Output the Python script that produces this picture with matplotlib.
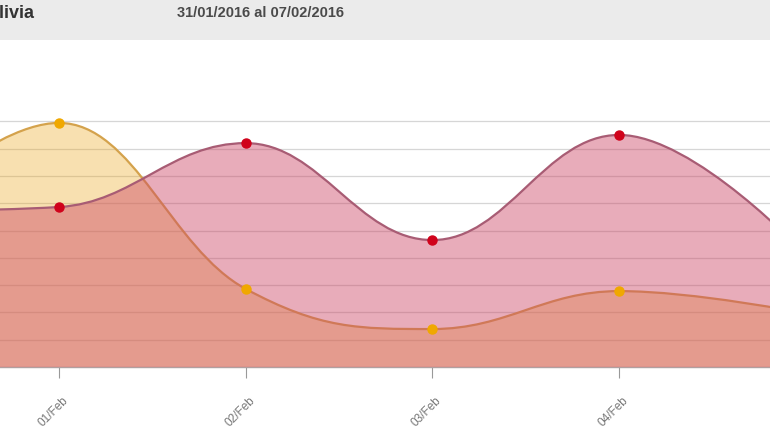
import numpy as np
import matplotlib.pyplot as plt
from matplotlib.path import Path
from matplotlib.patches import PathPatch, Rectangle
from matplotlib.transforms import ScaledTranslation

plt.rcParams['font.family'] = ['Liberation Sans', 'DejaVu Sans']

# datos (unidades = lineas de la grilla)
dias = ['31/Jan', '01/Feb', '02/Feb', '03/Feb', '04/Feb', '05/Feb']
serie_roja = [5.7, 5.86, 8.2, 4.65, 8.5, 4.1]
serie_amarilla = [4.6, 8.94, 2.86, 1.39, 2.78, 1.96]
titulo = 'Bolivia'
rango = '31/01/2016 al 07/02/2016'


def spline_path(xs, ys, smoothing=1.5):
    """curva tipo 'spline' de Highcharts (bezier cubica)"""
    n = len(xs)
    denom = smoothing + 1
    left = [None] * n
    right = [None] * n
    for i in range(n):
        x, y = xs[i], ys[i]
        if 0 < i < n - 1:
            lx, ly = xs[i - 1], ys[i - 1]
            nx, ny = xs[i + 1], ys[i + 1]
            lcx = (smoothing * x + lx) / denom
            lcy = (smoothing * y + ly) / denom
            rcx = (smoothing * x + nx) / denom
            rcy = (smoothing * y + ny) / denom
            corr = (rcy - lcy) * (rcx - x) / (rcx - lcx) + y - rcy
            lcy += corr
            rcy += corr
            if lcy > ly and lcy > y:
                lcy = max(ly, y)
                rcy = 2 * y - lcy
            elif lcy < ly and lcy < y:
                lcy = min(ly, y)
                rcy = 2 * y - lcy
            if rcy > ny and rcy > y:
                rcy = max(ny, y)
                lcy = 2 * y - rcy
            elif rcy < ny and rcy < y:
                rcy = min(ny, y)
                lcy = 2 * y - rcy
            left[i] = (lcx, lcy)
            right[i] = (rcx, rcy)
        else:
            left[i] = (x, y)
            right[i] = (x, y)
    verts = [(xs[0], ys[0])]
    codes = [Path.MOVETO]
    for i in range(1, n):
        verts += [right[i - 1], left[i], (xs[i], ys[i])]
        codes += [Path.CURVE4] * 3
    return verts, codes


def area_patch(xs, ys, **kw):
    verts, codes = spline_path(xs, ys)
    verts = verts + [(xs[-1], 0), (xs[0], 0), (xs[0], ys[0])]
    codes = codes + [Path.LINETO, Path.LINETO, Path.CLOSEPOLY]
    return PathPatch(Path(verts, codes), **kw)


def line_patch(xs, ys, **kw):
    verts, codes = spline_path(xs, ys)
    return PathPatch(Path(verts, codes), fill=False, **kw)


W, H = 770, 430
fig = plt.figure(figsize=(W / 100, H / 100), dpi=100)

# banda gris de cabecera
fig.patches.append(Rectangle((0, 1 - 40 / H), 1, 40 / H, transform=fig.transFigure,
                             facecolor='#ebebeb', edgecolor='none', zorder=0))
fig.text(35 / W, 1 - 13 / H, titulo, ha='right', va='center', fontsize=13,
         fontweight='bold', color='#333333')
fig.text(177 / W, 1 - 13 / H, rango, ha='left', va='center', fontsize=10.5,
         fontweight='bold', color='#4a4a4a')

ax = fig.add_axes([0, 63 / H, 1, (367 - 41) / H])
x = np.arange(len(dias))

# areas
ax.add_patch(area_patch(x, serie_amarilla, facecolor='#eba81d', alpha=0.35,
                        edgecolor='none', zorder=2))
ax.add_patch(line_patch(x, serie_amarilla, edgecolor='#d4a24c', linewidth=1.6, zorder=3))
ax.add_patch(area_patch(x, serie_roja, facecolor='#cc4766', alpha=0.45,
                        edgecolor='none', zorder=4))
ax.add_patch(line_patch(x, serie_roja, edgecolor='#a85c74', linewidth=1.6, zorder=5))

ax.plot(x, serie_amarilla, 'o', color='#f0a800', markersize=6.5, zorder=6)
ax.plot(x, serie_roja, 'o', color='#d0021b', markersize=6.5, zorder=6)

ax.set_yticks(np.arange(1, 10))
ax.yaxis.grid(True, color='#d6d6d6', linewidth=0.9)
ax.set_axisbelow(True)
ax.tick_params(axis='y', left=False, labelleft=False)

ax.set_xticks(x)
ax.set_xticklabels(dias, rotation=45, ha='right', va='top', fontsize=8.5,
                   color='#777777', rotation_mode='anchor')
ax.tick_params(axis='x', length=8, width=0.8, color='#999999', pad=12)
desplaza = ScaledTranslation(3 / 100, 0, fig.dpi_scale_trans)
for lbl in ax.get_xticklabels():
    lbl.set_transform(lbl.get_transform() + desplaza)

# limites al final (set_xticks los amplia)
ax.set_xlim(0.684, 4.808)
ax.set_ylim(0, (367 - 41) / 27.3)

for s in ['top', 'left', 'right']:
    ax.spines[s].set_visible(False)
ax.spines['bottom'].set_color('#b0a0a0')
ax.spines['bottom'].set_linewidth(1)

fig.savefig('out.png', dpi=100)
